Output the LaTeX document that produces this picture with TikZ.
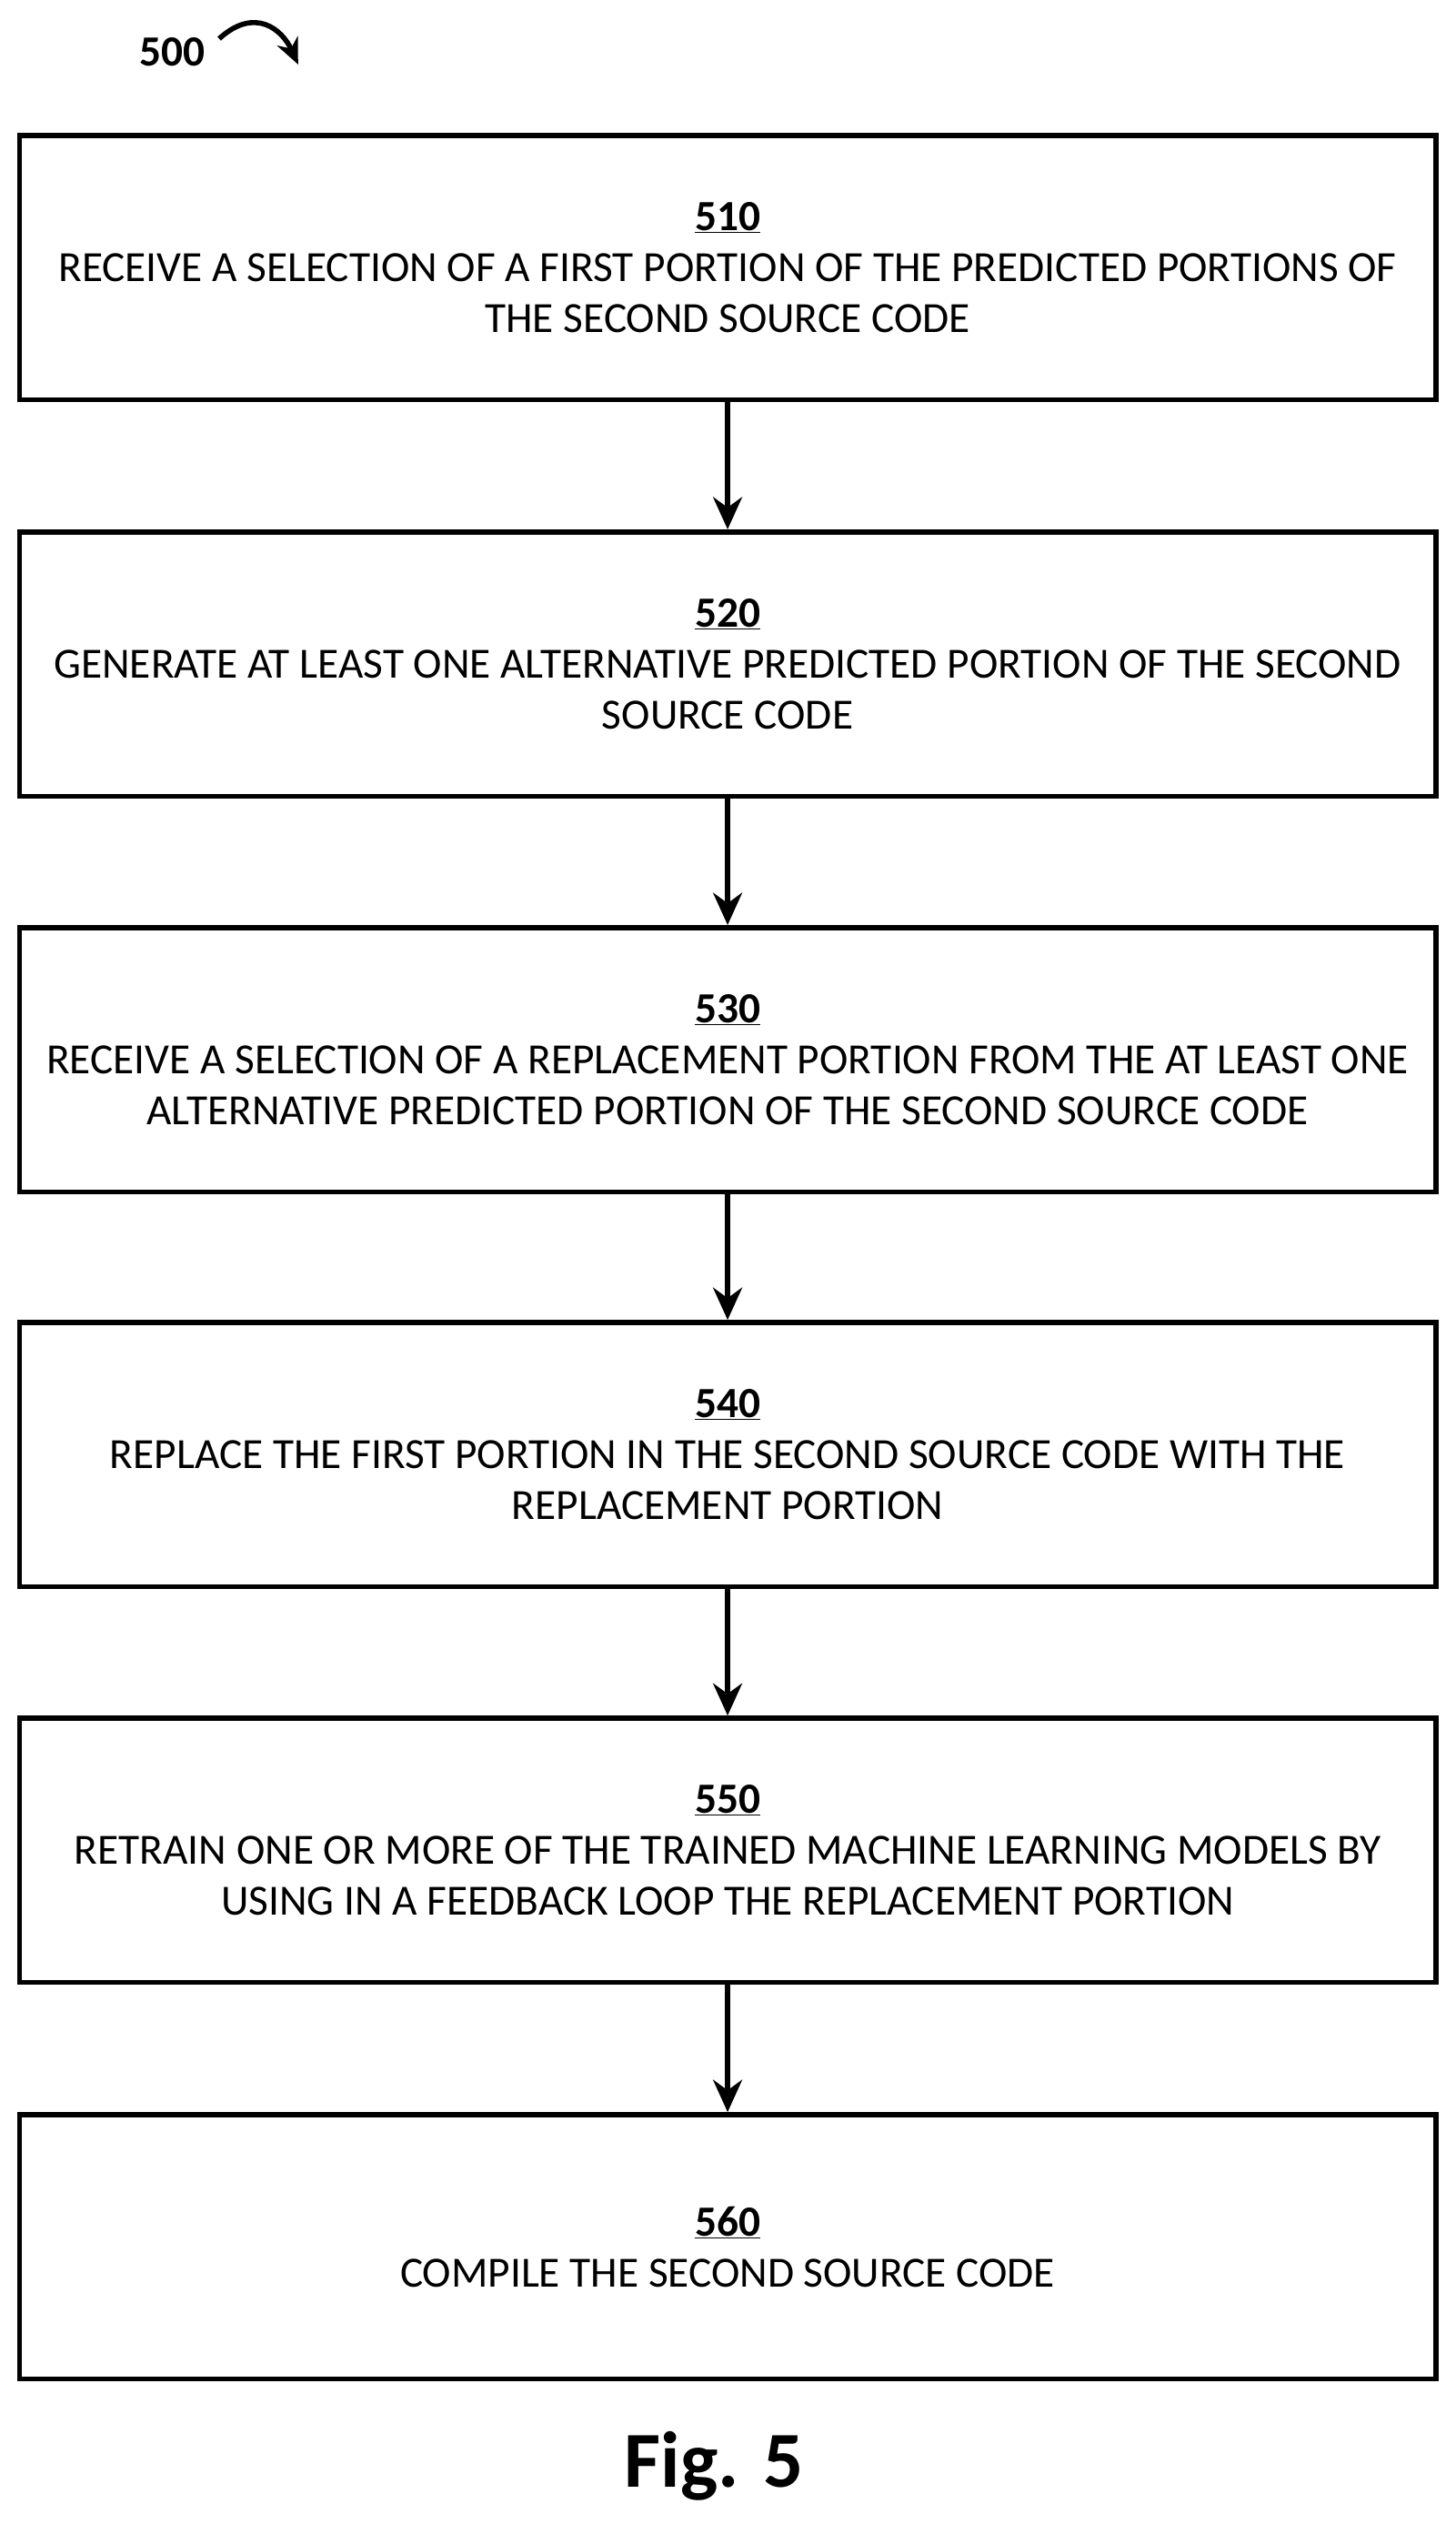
\documentclass[tikz,border=0pt]{standalone}
\usepackage{fontspec}
\setmainfont{Carlito}
\usetikzlibrary{arrows.meta,positioning}
\tikzset{
  stepbox/.style={draw, line width=4.5pt, minimum width=43.95cm, minimum height=8.2cm,
    align=center, font=\fontsize{38}{45}\selectfont},
  flow/.style={-{Stealth[length=1cm,width=0.9cm]}, line width=4.5pt}
}
\newcommand{\stepno}[1]{\textbf{\underline{#1}}}
\begin{document}
\begin{tikzpicture}[x=0.05cm,y=-0.05cm]
  \useasboundingbox (0,0) rectangle (903,1566);
  \node[font=\fontsize{38}{40}\selectfont\bfseries] (label) at (107,32) {500};
  \draw[-{Stealth[length=0.8cm,width=0.7cm]}, line width=4.5pt] (136,24) .. controls (158,4) and (175,18) .. (185,40);
  \node[stepbox] (s510) at (451.5,166) {\stepno{510}\\RECEIVE A SELECTION OF A FIRST PORTION OF THE PREDICTED PORTIONS OF\\THE SECOND SOURCE CODE};
  \node[stepbox] (s520) at (451.5,412) {\stepno{520}\\GENERATE AT LEAST ONE ALTERNATIVE PREDICTED PORTION OF THE SECOND\\SOURCE CODE};
  \node[stepbox] (s530) at (451.5,657.5) {\stepno{530}\\RECEIVE A SELECTION OF A REPLACEMENT PORTION FROM THE AT LEAST ONE\\ALTERNATIVE PREDICTED PORTION OF THE SECOND SOURCE CODE};
  \node[stepbox] (s540) at (451.5,902.5) {\stepno{540}\\REPLACE THE FIRST PORTION IN THE SECOND SOURCE CODE WITH THE\\REPLACEMENT PORTION};
  \node[stepbox] (s550) at (451.5,1148) {\stepno{550}\\RETRAIN ONE OR MORE OF THE TRAINED MACHINE LEARNING MODELS BY\\USING IN A FEEDBACK LOOP THE REPLACEMENT PORTION};
  \node[stepbox] (s560) at (451.5,1394) {\stepno{560}\\COMPILE THE SECOND SOURCE CODE};
  \foreach \a/\b in {s510/s520,s520/s530,s530/s540,s540/s550,s550/s560}
    \draw[flow] (\a) -- (\b);
  \node[font=\fontsize{70}{74}\selectfont\bfseries] (fig) at (443,1530) {Fig. 5};
\end{tikzpicture}
\end{document}
